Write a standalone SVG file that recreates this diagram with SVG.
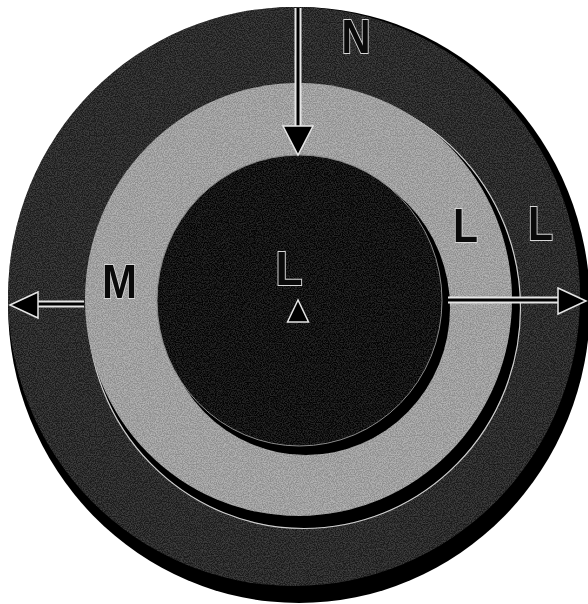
<svg xmlns="http://www.w3.org/2000/svg" width="588" height="604" viewBox="0 0 588 604">
  <style>
    .shadow { fill: #000000; }
    .hl { fill: none; stroke: #cfcfcf; stroke-width: 1.2; }
    .dark { fill: #1f1f1f; }
    .light { fill: #a6a6a6; }
    .core { fill: #030303; }
    .lbl { font-family: "Liberation Sans", Arial, sans-serif; font-weight: bold; font-size: 49px; text-anchor: middle; fill: #0a0a0a; stroke: #d8d8d8; stroke-width: 2; paint-order: stroke; }
    .halo { stroke: #e6e6e6; stroke-width: 7; fill: none; }
    .shaft { stroke: #000000; stroke-width: 3; fill: none; }
    .head { fill: #000000; stroke: #e6e6e6; stroke-width: 1.5; stroke-linejoin: miter; }
  </style>
  <defs>
    <filter id="grain" x="0" y="0" width="100%" height="100%" color-interpolation-filters="sRGB">
      <feTurbulence type="fractalNoise" baseFrequency="0.85" numOctaves="2" seed="7" result="n"/>
      <feColorMatrix in="n" type="matrix" values="3 0 0 0 -1  3 0 0 0 -1  3 0 0 0 -1  0 0 0 0 0.14" result="spk"/>
      <feComposite in="spk" in2="SourceGraphic" operator="in" result="cl"/>
      <feMerge>
        <feMergeNode in="SourceGraphic"/>
        <feMergeNode in="cl"/>
      </feMerge>
    </filter>
  </defs>

  <g id="outer-ring">
    <ellipse class="shadow" cx="299" cy="305" rx="291" ry="298"/>
    <ellipse class="dark" cx="294" cy="296.5" rx="286" ry="289.5" filter="url(#grain)"/>
  </g>

  <g id="middle-ring">
    <ellipse class="shadow" cx="304" cy="308" rx="216" ry="220"/>
    <ellipse class="hl" cx="304" cy="308" rx="216.5" ry="220.5"/>
    <ellipse class="light" cx="298.5" cy="299.5" rx="213.5" ry="216.5" filter="url(#grain)"/>
  </g>

  <g id="inner-core">
    <ellipse class="shadow" cx="306" cy="308" rx="144" ry="147"/>
    <ellipse class="core" cx="299.5" cy="300.5" rx="142.5" ry="145.5" filter="url(#grain)"/>
    <ellipse fill="none" stroke="#8a8a8a" stroke-width="1" cx="299.5" cy="300.5" rx="142.5" ry="145.5"/>
  </g>

  <g id="connectors">
    <line class="halo" x1="298" y1="8" x2="298" y2="128"/>
    <line class="shaft" x1="298" y1="8" x2="298" y2="128"/>
    <polygon class="head" points="283,126 313,126 298,155"/>
    <line class="halo" x1="38" y1="304" x2="84" y2="304"/>
    <line class="shaft" x1="38" y1="304" x2="84" y2="304"/>
    <polygon class="head" points="10,305 38,292 38,318"/>
    <line class="halo" x1="448" y1="300" x2="559" y2="300"/>
    <line class="shaft" x1="448" y1="300" x2="559" y2="300"/>
    <polygon class="head" points="586,301 558,288 558,314"/>
  </g>

  <g id="labels" opacity="0.999">
    <text id="label-N" class="lbl" x="356" y="53" textLength="29" lengthAdjust="spacingAndGlyphs">N</text>
    <text id="label-M" class="lbl" x="119.5" y="298" textLength="35" lengthAdjust="spacingAndGlyphs">M</text>
    <text id="label-L-middle" class="lbl" x="465.5" y="242" textLength="25" lengthAdjust="spacingAndGlyphs">L</text>
    <text id="label-L-outer" class="lbl" x="540.5" y="240" textLength="25" lengthAdjust="spacingAndGlyphs">L</text>
    <text id="label-L-center" class="lbl" x="289" y="285" textLength="27" lengthAdjust="spacingAndGlyphs">L</text>
    <polygon id="center-marker" class="head" points="298,300 287.5,322 308.5,322"/>
  </g>
</svg>
